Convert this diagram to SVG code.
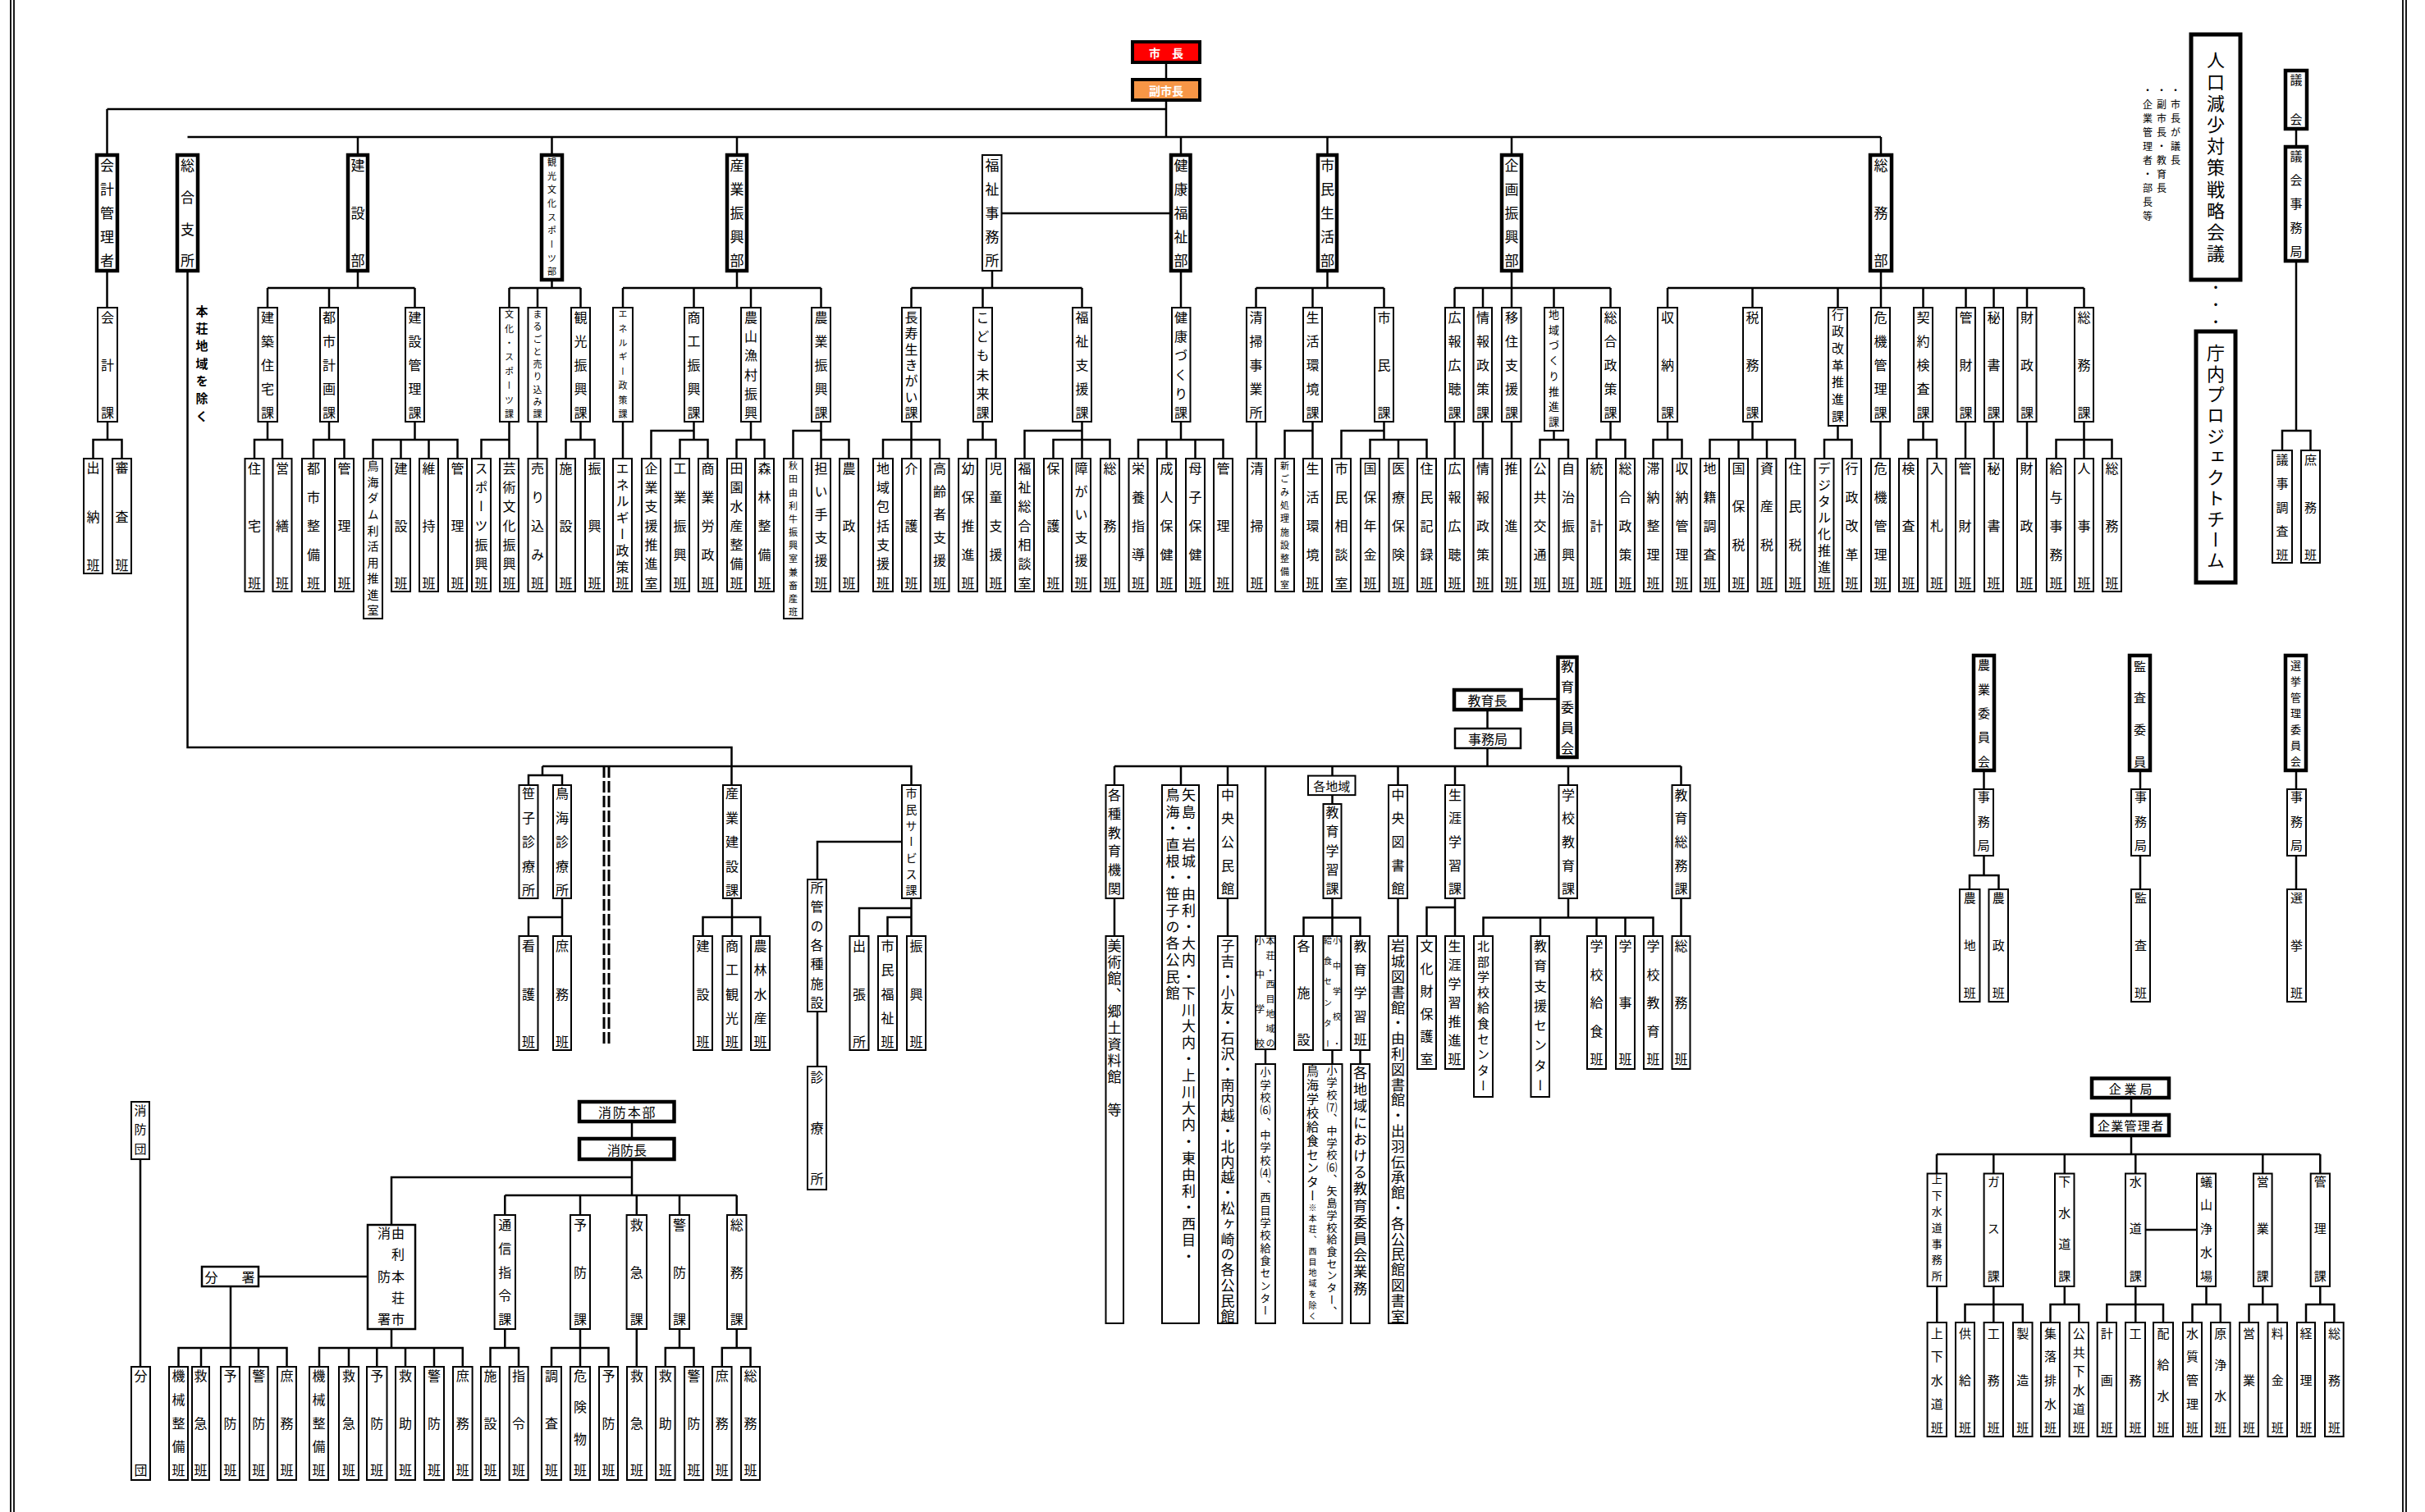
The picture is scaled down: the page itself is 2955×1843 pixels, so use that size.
<svg xmlns="http://www.w3.org/2000/svg" width="2955" height="1843" viewBox="0 0 2955 1843">
<style>
.b{fill:#fff;stroke:#000;stroke-width:2}
.k{fill:#fff;stroke:#000;stroke-width:4.5}
.c path{fill:none;stroke:#000;stroke-width:2.5}
text{font-family:"Noto Sans CJK JP","Noto Sans CJK SC",sans-serif;fill:#000}
.v{writing-mode:vertical-rl;text-anchor:middle;font-size:16px}
.l{writing-mode:vertical-rl;text-anchor:start;font-size:17px}
.h{text-anchor:middle;dominant-baseline:central;font-size:16px}
.f17{font-size:17px}.f15{font-size:15px}.f14{font-size:14px}.f13{font-size:13px}.f11{font-size:11px}.f10{font-size:10px}
.w{fill:#fff;font-weight:bold;font-size:14px}
</style>
<rect width="2955" height="1843" fill="#fff"/>
<g id="frame" fill="none" stroke="#000" stroke-width="1.8"><path d="M13 0V1843M17 0V1843M2928 0V1843M2932 0V1843"/></g>
<g id="connectors" class="c">
<path d="M1421 76V97M1421 122V167M130.5 133H1421M130.5 133V189M228.5 167H2292M436 167V189M672.5 167V189M898 167V189M1439 167V189M1617.5 167V189M1842 167V189M2292 167V189M1220.5 260H1427"/>
<path d="M130.5 330V375M436 330V351M326 351H505.5M326 351V375M401 351V375M505.5 351V375M672.5 341V351M620.5 351H707.5M620.5 351V375M655 351V375M707.5 351V375M898 330V351M759 351H1000.5M759 351V375M845.5 351V375M915 351V375M1000.5 351V375M1209 330V351M1110.5 351H1318.5M1110.5 351V375M1197.5 351V375M1318.5 351V375M1439 330V375M1617.5 330V351M1530.5 351H1686.5M1530.5 351V375M1599.5 351V375M1686.5 351V375M1842 330V375M1772.5 351H1962.5M1772.5 351V375M1807 351V375M1893.5 351V375M1962.5 351V375M2292 330V375M2032 351H2539.5M2032 351V375M2135.5 351V375M2239.5 351V375M2343.5 351V375M2395.5 351V375M2429.5 351V375M2470 351V375M2539.5 351V375"/>
<path d="M131 514V536M113.5 559V536H148.5V559M326 514V536M310 559V536H344V559M401 514V536M382 559V536H419.5V559M505.5 514V536M454.5 559V536H557.5V559M488.5 536V559M522.5 536V559M620.5 514V559M586.5 559V536H620.5M655 514V559M707.5 514V536M689.5 559V536H724.5V559M759 514V559M845.5 514V536M793.5 559V525H845.5M828.5 559V536H862.5V559M915 514V536M897.5 559V536H931.5V559M1000.5 514V559M966.5 559V525H1000.5M1000.5 536H1034.5V559M1110.5 514V559M1076 559V536H1145V559M1197.5 514V536M1179.5 559V536H1213.5V559M1318.5 514V559M1248.5 559V525H1318.5M1283.5 559V536H1352.5V559M1439 514V536M1387 559V536H1490.5V559M1421.5 536V559M1456.5 536V559M1531 514V559M1599.5 514V559M1565.5 559V525H1599.5M1686.5 514V536M1634.5 559V525H1686.5M1669.5 559V536H1738.5V559M1704 536V559M1772.5 514V559M1807 514V559M1842 514V559M1893.5 525V536M1876.5 559V536H1911V559M1962.5 514V536M1945.5 559V536H1980.5V559M2032 514V536M2014.5 559V536H2049.5V559M2135.5 514V536M2083.5 559V536H2187.5V559M2118.5 536V559M2153 536V559M2239.5 519V536M2223 559V536H2256.5V559M2291.5 514V559M2343.5 514V536M2325.5 559V536H2360V559M2395 514V559M2429.5 514V559M2470 514V559M2539.5 514V559M2505.5 559V536H2573.5V559"/>
<path d="M228.5 330V911H891.5V957M661 934H1110.5V957M661 934V945M644 957V945H685V957M685 1095V1141M644 1141V1118H685M892 1095V1141M856.5 1141V1118H926.5V1141M1099 1026H996V1072M996 1233V1300M1110.5 1095V1141M1047 1141V1107H1110.5M1081.5 1141V1118H1110.5"/>
<path d="M736 934V1275M742 934V1275" style="stroke-width:3;stroke-dasharray:14 4"/>
<path d="M1853.5 852H1898.5M1812.5 865V888M1812.5 912V934M1358 934H2048.5M1358 934V957M1439 934V957M1496 934V957M1542 934V1141M1623.5 934V945.6M1623.5 969V980M1703.5 934V957M1773 934V957M1911 934V957M2048.5 934V957M1358 1095V1141M1496 1095V1141M1542 1279V1297M1623.5 1095V1141M1588.5 1141V1118.5H1657.5V1141M1623.5 1280V1297M1657.5 1280V1297M1703.5 1095V1141M1773 1095V1141M1738.5 1141V1106H1773M1911 1095V1118.5M1807.5 1141V1118.5H2014.5V1141M1877 1118.5V1141M1945.5 1118.5V1141M1980.5 1118.5V1141M2048.5 1095V1141"/>
<path d="M2417.5 939V962M2417.5 1043V1067M2400 1084V1067H2435.5V1084M2608 939V962M2608 1043V1084M2798 939V962M2798 1043V1084M2798 157V179M2798 318V525M2781 549V525H2815.5V549"/>
<path d="M2597 1338V1359M2597 1384V1407M2360 1407H2827.3M2360 1407V1430.5M2429.3 1407V1430.5M2515.8 1407V1430.5M2602.3 1407V1430.5M2757.3 1407V1430.5M2827.3 1407V1430.5M2614.5 1499H2677M2360.3 1568V1612M2429.3 1568V1612M2394.5 1612V1590H2464.8V1612M2515.8 1568V1590M2498.5 1612V1590H2533.3V1612M2602.3 1568V1612M2567.3 1612V1590H2636V1612M2688.5 1568V1590M2671.5 1612V1590H2705.8V1612M2757.3 1568V1590M2740.5 1612V1590H2775.2V1612M2827.3 1568V1590M2810 1612V1590H2844.4V1612"/>
<path d="M171 1413V1666M770 1367V1388M770 1413V1457M770 1435H477V1493M315 1556H448M281 1568V1666M217.5 1666V1643H349.5V1666M245 1643V1666M315 1643V1666M477 1620V1643M389 1666V1643H563.8V1666M425 1643V1666M459.3 1643V1666M494 1643V1666M529 1643V1666M615.3 1457H897.7M615.3 1457V1481M707 1457V1481M775.8 1457V1481M828 1457V1481M897.7 1457V1481M615.3 1620V1643M597.5 1666V1643H632V1666M707 1620V1666M672 1666V1643H741.5V1666M775.8 1620V1666M828 1620V1643M810.8 1666V1643H845.5V1666M897.7 1620V1643M879.8 1666V1643H914.5V1666"/>
</g>
<g id="mayor"><rect x="1380" y="51" width="82" height="25" fill="#ff0000" stroke="#000" stroke-width="4"/><text class="h w" x="1421" y="64">市　長</text></g>
<g id="vice-mayor"><rect x="1380" y="97" width="82" height="25" fill="#f79646" stroke="#000" stroke-width="4"/><text class="h w" x="1421" y="110">副市長</text></g>
<g id="d01"><rect class="k" x="118" y="189" width="25" height="141"/><text class="v f17" x="130.5" y="201.5 230.6 259.8 288.9 318">会計管理者</text></g>
<g id="d02"><rect class="k" x="216" y="189" width="25" height="141"/><text class="v f17" x="228.5" y="201.5 240.3 279.2 318">総合支所</text></g>
<g id="d03"><rect class="k" x="424" y="189" width="24" height="141"/><text class="v f17" x="436" y="201.5 259.8 318">建設部</text></g>
<g id="d04"><rect class="k" x="660" y="189" width="25" height="152"/><text class="v f11" x="672.5" y="198 214.6 231.3 247.9 264.5 281.1 297.8 314.4 331">観光文化スポーツ部</text></g>
<g id="d05"><rect class="k" x="886" y="189" width="24" height="141"/><text class="v f17" x="898" y="201.5 230.6 259.8 288.9 318">産業振興部</text></g>
<g id="d06"><rect class="b" x="1197" y="189" width="23.5" height="141"/><text class="v f17" x="1209" y="201.5 230.6 259.8 288.9 318">福祉事務所</text></g>
<g id="d07"><rect class="k" x="1427" y="189" width="23.5" height="141"/><text class="v f17" x="1439" y="201.5 230.6 259.8 288.9 318">健康福祉部</text></g>
<g id="d08"><rect class="k" x="1606" y="189" width="23" height="141"/><text class="v f17" x="1617.5" y="201.5 230.6 259.8 288.9 318">市民生活部</text></g>
<g id="d09"><rect class="k" x="1830" y="189" width="24" height="141"/><text class="v f17" x="1842" y="201.5 230.6 259.8 288.9 318">企画振興部</text></g>
<g id="d10"><rect class="k" x="2279" y="189" width="26" height="141"/><text class="v f17" x="2292" y="201.5 259.8 318">総務部</text></g>
<g id="note-honjo"><text class="v f15" style="font-weight:bold" x="246" y="379 400.3 421.7 443 464.3 485.7 507">本荘地域を除く</text></g>
<g id="k01"><rect class="b" x="119" y="375" width="24" height="139"/><text class="v" x="131" y="387 445 503">会計課</text></g>
<g id="k02"><rect class="b" x="314.5" y="375" width="23.5" height="139"/><text class="v" x="326" y="387 416 445 474 503">建築住宅課</text></g>
<g id="k03"><rect class="b" x="390" y="375" width="22" height="139"/><text class="v" x="401" y="387 416 445 474 503">都市計画課</text></g>
<g id="k04"><rect class="b" x="494" y="375" width="23" height="139"/><text class="v" x="505.5" y="387 416 445 474 503">建設管理課</text></g>
<g id="k05"><rect class="b" x="609" y="375" width="23" height="139"/><text class="v f11" x="620.5" y="383 400.4 417.9 435.3 452.7 470.1 487.6 505">文化・スポーツ課</text></g>
<g id="k06"><rect class="b" x="643.5" y="375" width="22.5" height="139"/><text class="v f11" x="655" y="383 398.3 413.5 428.8 444 459.3 474.5 489.8 505">まるごと売り込み課</text></g>
<g id="k07"><rect class="b" x="696" y="375" width="23" height="139"/><text class="v" x="707.5" y="387 416 445 474 503">観光振興課</text></g>
<g id="k08"><rect class="b" x="747" y="375" width="24" height="139"/><text class="v f11" x="759" y="383 400.4 417.9 435.3 452.7 470.1 487.6 505">エネルギー政策課</text></g>
<g id="k09"><rect class="b" x="834" y="375" width="23" height="139"/><text class="v" x="845.5" y="387 416 445 474 503">商工振興課</text></g>
<g id="k10"><rect class="b" x="903" y="375" width="24" height="139"/><text class="v" x="915" y="387 410.2 433.4 456.6 479.8 503">農山漁村振興</text></g>
<g id="k11"><rect class="b" x="989" y="375" width="23" height="139"/><text class="v" x="1000.5" y="387 416 445 474 503">農業振興課</text></g>
<g id="k12"><rect class="b" x="1099" y="375" width="23" height="139"/><text class="v" x="1110.5" y="387 406.3 425.7 445 464.3 483.7 503">長寿生きがい課</text></g>
<g id="k13"><rect class="b" x="1186" y="375" width="23" height="139"/><text class="v" x="1197.5" y="387 410.2 433.4 456.6 479.8 503">こども未来課</text></g>
<g id="k14"><rect class="b" x="1307" y="375" width="23" height="139"/><text class="v" x="1318.5" y="387 416 445 474 503">福祉支援課</text></g>
<g id="k15"><rect class="b" x="1428" y="375" width="22.5" height="139"/><text class="v" x="1439" y="387 410.2 433.4 456.6 479.8 503">健康づくり課</text></g>
<g id="k16"><rect class="b" x="1519" y="375" width="23" height="139"/><text class="v" x="1530.5" y="387 416 445 474 503">清掃事業所</text></g>
<g id="k17"><rect class="b" x="1588" y="375" width="23" height="139"/><text class="v" x="1599.5" y="387 416 445 474 503">生活環境課</text></g>
<g id="k18"><rect class="b" x="1675" y="375" width="23" height="139"/><text class="v" x="1686.5" y="387 445 503">市民課</text></g>
<g id="k19"><rect class="b" x="1761" y="375" width="23" height="139"/><text class="v" x="1772.5" y="387 416 445 474 503">広報広聴課</text></g>
<g id="k20"><rect class="b" x="1795.5" y="375" width="22.5" height="139"/><text class="v" x="1807" y="387 416 445 474 503">情報政策課</text></g>
<g id="k21"><rect class="b" x="1830" y="375" width="23.5" height="139"/><text class="v" x="1842" y="387 416 445 474 503">移住支援課</text></g>
<g id="k22"><rect class="b" x="1882" y="375" width="23" height="150"/><text class="v f13" x="1893.5" y="383 401.7 420.4 439.1 457.9 476.6 495.3 514">地域づくり推進課</text></g>
<g id="k23"><rect class="b" x="1951" y="375" width="23" height="139"/><text class="v" x="1962.5" y="387 416 445 474 503">総合政策課</text></g>
<g id="k24"><rect class="b" x="2020" y="375" width="24" height="139"/><text class="v" x="2032" y="387 445 503">収納課</text></g>
<g id="k25"><rect class="b" x="2124" y="375" width="23" height="139"/><text class="v" x="2135.5" y="387 445 503">税務課</text></g>
<g id="k26"><rect class="b" x="2228" y="375" width="23" height="144"/><text class="v f15" x="2239.5" y="383 403.7 424.3 445 465.7 486.3 507">行政改革推進課</text></g>
<g id="k27"><rect class="b" x="2280" y="375" width="23" height="139"/><text class="v" x="2291.5" y="387 416 445 474 503">危機管理課</text></g>
<g id="k28"><rect class="b" x="2332" y="375" width="23" height="139"/><text class="v" x="2343.5" y="387 416 445 474 503">契約検査課</text></g>
<g id="k29"><rect class="b" x="2384" y="375" width="23" height="139"/><text class="v" x="2395.5" y="387 445 503">管財課</text></g>
<g id="k30"><rect class="b" x="2418" y="375" width="23" height="139"/><text class="v" x="2429.5" y="387 445 503">秘書課</text></g>
<g id="k31"><rect class="b" x="2458.5" y="375" width="23" height="139"/><text class="v" x="2470" y="387 445 503">財政課</text></g>
<g id="k32"><rect class="b" x="2528" y="375" width="23" height="139"/><text class="v" x="2539.5" y="387 445 503">総務課</text></g>
<g id="h01"><rect class="b" x="102" y="559" width="23" height="140"/><text class="v" x="113.5" y="570 629.5 689">出納班</text></g>
<g id="h02"><rect class="b" x="137" y="559" width="23" height="140"/><text class="v" x="148.5" y="570 629.5 689">審査班</text></g>
<g id="h03"><rect class="b" x="298.5" y="559" width="23" height="162"/><text class="v" x="310" y="570.5 640.5 710.5">住宅班</text></g>
<g id="h04"><rect class="b" x="332.5" y="559" width="23" height="162"/><text class="v" x="344" y="570.5 640.5 710.5">営繕班</text></g>
<g id="h05"><rect class="b" x="368" y="559" width="28" height="162"/><text class="v" x="382" y="570.5 605.5 640.5 675.5 710.5">都市整備班</text></g>
<g id="h06"><rect class="b" x="408" y="559" width="23" height="162"/><text class="v" x="419.5" y="570.5 640.5 710.5">管理班</text></g>
<g id="h07"><rect class="b" x="443" y="559" width="23" height="195"/><text class="v f14" x="454.5" y="568 587.6 607.1 626.7 646.2 665.8 685.4 704.9 724.5 744">鳥海ダム利活用推進室</text></g>
<g id="h08"><rect class="b" x="477" y="559" width="23" height="162"/><text class="v" x="488.5" y="570.5 640.5 710.5">建設班</text></g>
<g id="h09"><rect class="b" x="511" y="559" width="23" height="162"/><text class="v" x="522.5" y="570.5 640.5 710.5">維持班</text></g>
<g id="h10"><rect class="b" x="546" y="559" width="23" height="162"/><text class="v" x="557.5" y="570.5 640.5 710.5">管理班</text></g>
<g id="h11"><rect class="b" x="575" y="559" width="23" height="162"/><text class="v" x="586.5" y="570.5 593.8 617.2 640.5 663.8 687.2 710.5">スポーツ振興班</text></g>
<g id="h12"><rect class="b" x="609" y="559" width="23" height="162"/><text class="v" x="620.5" y="570.5 593.8 617.2 640.5 663.8 687.2 710.5">芸術文化振興班</text></g>
<g id="h13"><rect class="b" x="643.5" y="559" width="23" height="162"/><text class="v" x="655" y="570.5 605.5 640.5 675.5 710.5">売り込み班</text></g>
<g id="h14"><rect class="b" x="678" y="559" width="23" height="162"/><text class="v" x="689.5" y="570.5 640.5 710.5">施設班</text></g>
<g id="h15"><rect class="b" x="713" y="559" width="23" height="162"/><text class="v" x="724.5" y="570.5 640.5 710.5">振興班</text></g>
<g id="h16"><rect class="b" x="747" y="559" width="23" height="162"/><text class="v" x="758.5" y="570.5 590.5 610.5 630.5 650.5 670.5 690.5 710.5">エネルギー政策班</text></g>
<g id="h17"><rect class="b" x="782" y="559" width="23" height="162"/><text class="v" x="793.5" y="570.5 593.8 617.2 640.5 663.8 687.2 710.5">企業支援推進室</text></g>
<g id="h18"><rect class="b" x="817" y="559" width="23" height="162"/><text class="v" x="828.5" y="570.5 605.5 640.5 675.5 710.5">工業振興班</text></g>
<g id="h19"><rect class="b" x="851" y="559" width="23" height="162"/><text class="v" x="862.5" y="570.5 605.5 640.5 675.5 710.5">商業労政班</text></g>
<g id="h20"><rect class="b" x="886" y="559" width="23" height="162"/><text class="v" x="897.5" y="570.5 593.8 617.2 640.5 663.8 687.2 710.5">田園水産整備班</text></g>
<g id="h21"><rect class="b" x="920" y="559" width="23" height="162"/><text class="v" x="931.5" y="570.5 605.5 640.5 675.5 710.5">森林整備班</text></g>
<g id="h22"><rect class="b" x="955" y="559" width="23" height="195"/><text class="v f11" x="966.5" y="568 584.2 600.4 616.5 632.7 648.9 665.1 681.3 697.5 713.6 729.8 746">秋田由利牛振興室兼畜産班</text></g>
<g id="h23"><rect class="b" x="989" y="559" width="23" height="162"/><text class="v" x="1000.5" y="570.5 598.5 626.5 654.5 682.5 710.5">担い手支援班</text></g>
<g id="h24"><rect class="b" x="1023" y="559" width="23" height="162"/><text class="v" x="1034.5" y="570.5 640.5 710.5">農政班</text></g>
<g id="h25"><rect class="b" x="1064" y="559" width="24" height="162"/><text class="v" x="1076" y="570.5 593.8 617.2 640.5 663.8 687.2 710.5">地域包括支援班</text></g>
<g id="h26"><rect class="b" x="1099" y="559" width="23" height="162"/><text class="v" x="1110.5" y="570.5 640.5 710.5">介護班</text></g>
<g id="h27"><rect class="b" x="1133.5" y="559" width="23" height="162"/><text class="v" x="1145" y="570.5 598.5 626.5 654.5 682.5 710.5">高齢者支援班</text></g>
<g id="h28"><rect class="b" x="1168" y="559" width="23" height="162"/><text class="v" x="1179.5" y="570.5 605.5 640.5 675.5 710.5">幼保推進班</text></g>
<g id="h29"><rect class="b" x="1202" y="559" width="23" height="162"/><text class="v" x="1213.5" y="570.5 605.5 640.5 675.5 710.5">児童支援班</text></g>
<g id="h30"><rect class="b" x="1237" y="559" width="23" height="162"/><text class="v" x="1248.5" y="570.5 593.8 617.2 640.5 663.8 687.2 710.5">福祉総合相談室</text></g>
<g id="h31"><rect class="b" x="1272" y="559" width="23" height="162"/><text class="v" x="1283.5" y="570.5 640.5 710.5">保護班</text></g>
<g id="h32"><rect class="b" x="1306" y="559" width="23" height="162"/><text class="v" x="1317.5" y="570.5 598.5 626.5 654.5 682.5 710.5">障がい支援班</text></g>
<g id="h33"><rect class="b" x="1341" y="559" width="23" height="162"/><text class="v" x="1352.5" y="570.5 640.5 710.5">総務班</text></g>
<g id="h34"><rect class="b" x="1375.5" y="559" width="23" height="162"/><text class="v" x="1387" y="570.5 605.5 640.5 675.5 710.5">栄養指導班</text></g>
<g id="h35"><rect class="b" x="1410" y="559" width="23" height="162"/><text class="v" x="1421.5" y="570.5 605.5 640.5 675.5 710.5">成人保健班</text></g>
<g id="h36"><rect class="b" x="1445" y="559" width="23" height="162"/><text class="v" x="1456.5" y="570.5 605.5 640.5 675.5 710.5">母子保健班</text></g>
<g id="h37"><rect class="b" x="1479" y="559" width="23" height="162"/><text class="v" x="1490.5" y="570.5 640.5 710.5">管理班</text></g>
<g id="h38"><rect class="b" x="1520" y="559" width="23" height="162"/><text class="v" x="1531.5" y="570.5 640.5 710.5">清掃班</text></g>
<g id="h39"><rect class="b" x="1554" y="559" width="23" height="162"/><text class="v f11" x="1565.5" y="568 584.1 600.1 616.2 632.3 648.4 664.4 680.5 696.6 712.6">新ごみ処理施設整備室</text></g>
<g id="h40"><rect class="b" x="1588" y="559" width="23" height="162"/><text class="v" x="1599.5" y="570.5 605.5 640.5 675.5 710.5">生活環境班</text></g>
<g id="h41"><rect class="b" x="1623" y="559" width="23" height="162"/><text class="v" x="1634.5" y="570.5 605.5 640.5 675.5 710.5">市民相談室</text></g>
<g id="h42"><rect class="b" x="1658" y="559" width="23" height="162"/><text class="v" x="1669.5" y="570.5 605.5 640.5 675.5 710.5">国保年金班</text></g>
<g id="h43"><rect class="b" x="1692.5" y="559" width="23" height="162"/><text class="v" x="1704" y="570.5 605.5 640.5 675.5 710.5">医療保険班</text></g>
<g id="h44"><rect class="b" x="1727" y="559" width="23" height="162"/><text class="v" x="1738.5" y="570.5 605.5 640.5 675.5 710.5">住民記録班</text></g>
<g id="h45"><rect class="b" x="1761" y="559" width="23" height="162"/><text class="v" x="1772.5" y="570.5 605.5 640.5 675.5 710.5">広報広聴班</text></g>
<g id="h46"><rect class="b" x="1795.5" y="559" width="23" height="162"/><text class="v" x="1807" y="570.5 605.5 640.5 675.5 710.5">情報政策班</text></g>
<g id="h47"><rect class="b" x="1830" y="559" width="23" height="162"/><text class="v" x="1841.5" y="570.5 640.5 710.5">推進班</text></g>
<g id="h48"><rect class="b" x="1865" y="559" width="23" height="162"/><text class="v" x="1876.5" y="570.5 605.5 640.5 675.5 710.5">公共交通班</text></g>
<g id="h49"><rect class="b" x="1899.5" y="559" width="23" height="162"/><text class="v" x="1911" y="570.5 605.5 640.5 675.5 710.5">自治振興班</text></g>
<g id="h50"><rect class="b" x="1934" y="559" width="23" height="162"/><text class="v" x="1945.5" y="570.5 640.5 710.5">統計班</text></g>
<g id="h51"><rect class="b" x="1969" y="559" width="23" height="162"/><text class="v" x="1980.5" y="570.5 605.5 640.5 675.5 710.5">総合政策班</text></g>
<g id="h52"><rect class="b" x="2003" y="559" width="23" height="162"/><text class="v" x="2014.5" y="570.5 605.5 640.5 675.5 710.5">滞納整理班</text></g>
<g id="h53"><rect class="b" x="2038" y="559" width="23" height="162"/><text class="v" x="2049.5" y="570.5 605.5 640.5 675.5 710.5">収納管理班</text></g>
<g id="h54"><rect class="b" x="2072" y="559" width="23" height="162"/><text class="v" x="2083.5" y="570.5 605.5 640.5 675.5 710.5">地籍調査班</text></g>
<g id="h55"><rect class="b" x="2107" y="559" width="23" height="162"/><text class="v" x="2118.5" y="570.5 617.2 663.8 710.5">国保税班</text></g>
<g id="h56"><rect class="b" x="2141.5" y="559" width="23" height="162"/><text class="v" x="2153" y="570.5 617.2 663.8 710.5">資産税班</text></g>
<g id="h57"><rect class="b" x="2176" y="559" width="23" height="162"/><text class="v" x="2187.5" y="570.5 617.2 663.8 710.5">住民税班</text></g>
<g id="h58"><rect class="b" x="2211.5" y="559" width="23" height="162"/><text class="v" x="2223" y="570.5 590.5 610.5 630.5 650.5 670.5 690.5 710.5">デジタル化推進班</text></g>
<g id="h59"><rect class="b" x="2245" y="559" width="23" height="162"/><text class="v" x="2256.5" y="570.5 605.5 640.5 675.5 710.5">行政改革班</text></g>
<g id="h60"><rect class="b" x="2280" y="559" width="23" height="162"/><text class="v" x="2291.5" y="570.5 605.5 640.5 675.5 710.5">危機管理班</text></g>
<g id="h61"><rect class="b" x="2314" y="559" width="23" height="162"/><text class="v" x="2325.5" y="570.5 640.5 710.5">検査班</text></g>
<g id="h62"><rect class="b" x="2348.5" y="559" width="23" height="162"/><text class="v" x="2360" y="570.5 640.5 710.5">入札班</text></g>
<g id="h63"><rect class="b" x="2383" y="559" width="23" height="162"/><text class="v" x="2394.5" y="570.5 640.5 710.5">管財班</text></g>
<g id="h64"><rect class="b" x="2418" y="559" width="23" height="162"/><text class="v" x="2429.5" y="570.5 640.5 710.5">秘書班</text></g>
<g id="h65"><rect class="b" x="2458" y="559" width="23" height="162"/><text class="v" x="2469.5" y="570.5 640.5 710.5">財政班</text></g>
<g id="h66"><rect class="b" x="2494" y="559" width="23" height="162"/><text class="v" x="2505.5" y="570.5 605.5 640.5 675.5 710.5">給与事務班</text></g>
<g id="h67"><rect class="b" x="2528" y="559" width="23" height="162"/><text class="v" x="2539.5" y="570.5 640.5 710.5">人事班</text></g>
<g id="h68"><rect class="b" x="2562" y="559" width="23" height="162"/><text class="v" x="2573.5" y="570.5 640.5 710.5">総務班</text></g>
<g id="s01"><rect class="b" x="632.5" y="957" width="23" height="138"/><text class="v" x="644" y="967 996.5 1026 1055.5 1085">笹子診療所</text></g>
<g id="s02"><rect class="b" x="674" y="957" width="22" height="138"/><text class="v" x="685" y="967 996.5 1026 1055.5 1085">鳥海診療所</text></g>
<g id="s03"><rect class="b" x="632.5" y="1141" width="23" height="139"/><text class="v" x="644" y="1153 1211.5 1270">看護班</text></g>
<g id="s04"><rect class="b" x="674" y="1141" width="22" height="139"/><text class="v" x="685" y="1153 1211.5 1270">庶務班</text></g>
<g id="s05"><rect class="b" x="881" y="957" width="22" height="138"/><text class="v" x="892" y="967 996.5 1026 1055.5 1085">産業建設課</text></g>
<g id="s06"><rect class="b" x="845" y="1141" width="23" height="139"/><text class="v" x="856.5" y="1153 1211.5 1270">建設班</text></g>
<g id="s07"><rect class="b" x="880.5" y="1141" width="23" height="139"/><text class="v" x="892" y="1153 1182.3 1211.5 1240.8 1270">商工観光班</text></g>
<g id="s08"><rect class="b" x="915" y="1141" width="23" height="139"/><text class="v" x="926.5" y="1153 1182.3 1211.5 1240.8 1270">農林水産班</text></g>
<g id="s09"><rect class="b" x="1099" y="957" width="23" height="138"/><text class="v f14" x="1110.5" y="967 986.7 1006.3 1026 1045.7 1065.3 1085">市民サービス課</text></g>
<g id="s10"><rect class="b" x="984" y="1072" width="23" height="161"/><text class="v" x="995.5" y="1082 1105.3 1128.7 1152 1175.3 1198.7 1222">所管の各種施設</text></g>
<g id="s11"><rect class="b" x="984" y="1300" width="23" height="150"/><text class="v" x="995.5" y="1313 1375 1437">診療所</text></g>
<g id="s12"><rect class="b" x="1035.5" y="1141" width="23" height="139"/><text class="v" x="1047" y="1153 1211.5 1270">出張所</text></g>
<g id="s13"><rect class="b" x="1070" y="1141" width="23" height="139"/><text class="v" x="1081.5" y="1153 1182.3 1211.5 1240.8 1270">市民福祉班</text></g>
<g id="s14"><rect class="b" x="1105" y="1141" width="23" height="139"/><text class="v" x="1116.5" y="1153 1211.5 1270">振興班</text></g>
<g id="e01"><rect class="k" x="1898.5" y="801" width="23" height="122"/><text class="v" x="1910" y="812 836.9 861.8 886.7 911.6">教育委員会</text></g>
<g id="e02"><rect class="k" x="1772" y="841" width="81.5" height="24"/><text class="h" x="1812.5" y="853">教育長</text></g>
<g id="e03"><rect class="b" x="1773" y="888" width="80" height="24" style="stroke-width:2.5"/><text class="h" x="1813" y="900">事務局</text></g>
<g id="e04"><rect class="b" x="1347.5" y="957" width="21.5" height="138"/><text class="v" x="1358" y="968.7 991.6 1014.5 1037.4 1060.3 1083">各種教育機関</text></g>
<g id="e05"><rect class="b" x="1347.5" y="1141" width="21.5" height="472"/><text class="l" x="1358" y="1144.5" style="letter-spacing:3px">美術館、郷土資料館　等</text></g>
<g id="e06"><rect class="b" x="1416" y="957" width="45" height="656"/><text class="l" x="1448.5" y="960.5" style="letter-spacing:3.1px">矢島・岩城・由利・大内・下川大内・上川大内・東由利・西目・</text><text class="l" x="1429" y="960.5" style="letter-spacing:3.1px">鳥海・直根・笹子の各公民館</text></g>
<g id="e07"><rect class="b" x="1484" y="957" width="24" height="138"/><text class="v" x="1496" y="968.7 997.3 1025.9 1054.5 1083">中央公民館</text></g>
<g id="e08"><rect class="b" x="1484" y="1141" width="24" height="472"/><text class="l" x="1496" y="1144.5" style="letter-spacing:1.8px">子吉・小友・石沢・南内越・北内越・松ヶ崎の各公民館</text></g>
<g id="e09"><rect class="b" x="1530" y="1141" width="24" height="138"/><text class="v f11" x="1548" y="1146.5 1164.4 1182.4 1200.3 1218.2 1236.1 1254.1 1272">本荘・西目地域の</text><text class="v f11" x="1535.5" y="1146.5 1188.3 1230.2 1272">小中学校</text></g>
<g id="e10"><rect class="b" x="1530" y="1297" width="24" height="316"/><text class="l f13" x="1542" y="1300" style="letter-spacing:2.3px">小学校⑹、中学校⑷、西目学校給食センター</text></g>
<g id="e11"><rect class="b" x="1594" y="945.6" width="57.5" height="23.5"/><text class="h f15" x="1622.8" y="957.5">各地域</text></g>
<g id="e12"><rect class="b" x="1612.5" y="980" width="22" height="115"/><text class="v" x="1623.5" y="990 1013.3 1036.5 1059.8 1083">教育学習課</text></g>
<g id="e13"><rect class="b" x="1577" y="1141" width="23" height="139"/><text class="v" x="1588.5" y="1153 1210 1267">各施設</text></g>
<g id="e14"><rect class="b" x="1612.5" y="1141" width="22" height="139"/><text class="v f10" x="1629" y="1146.5 1177 1208 1239.5 1272">小中学校・</text><text class="v f10" x="1618" y="1146.5 1171.6 1196.7 1221.8 1246.9 1272">給食センター</text></g>
<g id="e15"><rect class="b" x="1588" y="1297" width="47.5" height="316"/><text class="l f13" x="1623" y="1298" style="letter-spacing:1.7px">小学校⑺、中学校⑹、矢島学校給食センター、</text><text class="l f15" x="1599.5" y="1298" style="letter-spacing:1.9px">鳥海学校給食センター<tspan class="f10" style="letter-spacing:3.2px">※本荘、西目地域を除く</tspan></text></g>
<g id="e16"><rect class="b" x="1646" y="1141" width="23" height="139"/><text class="v" x="1657.5" y="1153 1181.5 1210 1238.5 1267">教育学習班</text></g>
<g id="e17"><rect class="b" x="1646" y="1297" width="23" height="316"/><text class="l" x="1657.5" y="1299" style="letter-spacing:3.2px">各地域における教育委員会業務</text></g>
<g id="e18"><rect class="b" x="1692" y="957" width="23" height="138"/><text class="v" x="1703.5" y="968.7 997.3 1025.9 1054.5 1083">中央図書館</text></g>
<g id="e19"><rect class="b" x="1692" y="1141" width="23" height="472"/><text class="l" x="1703.5" y="1144.5" style="letter-spacing:1.8px">岩城図書館・由利図書館・出羽伝承館・各公民館図書室</text></g>
<g id="e20"><rect class="b" x="1761" y="957" width="23.5" height="138"/><text class="v" x="1773" y="968.7 997.3 1025.9 1054.5 1083">生涯学習課</text></g>
<g id="e21"><rect class="b" x="1727" y="1141" width="23" height="162"/><text class="v" x="1738.5" y="1153 1180.6 1208.2 1235.8 1263.4 1291">文化財保護室</text></g>
<g id="e22"><rect class="b" x="1761" y="1141" width="23" height="162"/><text class="v" x="1772.5" y="1153 1176 1199 1222 1245 1268 1291">生涯学習推進班</text></g>
<g id="e23"><rect class="b" x="1899.5" y="957" width="22.5" height="138"/><text class="v" x="1911" y="968.7 997.3 1025.9 1054.5 1083">学校教育課</text></g>
<g id="e24"><rect class="b" x="1796" y="1141" width="23" height="196"/><text class="v f15" x="1807.5" y="1153 1171.9 1190.8 1209.7 1228.6 1247.5 1266.4 1285.3 1304.2 1323">北部学校給食センター</text></g>
<g id="e25"><rect class="b" x="1865.5" y="1141" width="22.5" height="196"/><text class="v" x="1877" y="1153 1177.3 1201.6 1225.9 1250.1 1274.4 1298.7 1323">教育支援センター</text></g>
<g id="e26"><rect class="b" x="1934" y="1141" width="23" height="162"/><text class="v" x="1945.5" y="1153 1187.5 1222 1256.5 1291">学校給食班</text></g>
<g id="e27"><rect class="b" x="1969" y="1141" width="23" height="162"/><text class="v" x="1980.5" y="1153 1222 1291">学事班</text></g>
<g id="e28"><rect class="b" x="2003" y="1141" width="23" height="162"/><text class="v" x="2014.5" y="1153 1187.5 1222 1256.5 1291">学校教育班</text></g>
<g id="e29"><rect class="b" x="2037.5" y="957" width="22" height="138"/><text class="v" x="2048.5" y="968.7 997.3 1025.9 1054.5 1083">教育総務課</text></g>
<g id="e30"><rect class="b" x="2037.5" y="1141" width="22" height="162"/><text class="v" x="2048.5" y="1153 1222 1291">総務班</text></g>
<g id="c01"><rect class="k" x="2405" y="799" width="25" height="140"/><text class="v f15" x="2417.5" y="810.6 839.9 869.3 898.6 928">農業委員会</text></g>
<g id="c02"><rect class="b" x="2405.5" y="962" width="23.5" height="81"/><text class="v f15" x="2417.3" y="971 1001 1030.6">事務局</text></g>
<g id="c03"><rect class="b" x="2388" y="1084" width="24.5" height="137"/><text class="v f15" x="2400.2" y="1094 1152 1210.5">農地班</text></g>
<g id="c04"><rect class="b" x="2423.5" y="1084" width="23.5" height="137"/><text class="v f15" x="2435.3" y="1094 1152 1210.5">農政班</text></g>
<g id="c05"><rect class="k" x="2595" y="799" width="25" height="140"/><text class="v f15" x="2607.5" y="812 850.7 889.3 928">監査委員</text></g>
<g id="c06"><rect class="b" x="2597" y="962" width="23" height="81"/><text class="v f15" x="2608.5" y="971 1001 1030.6">事務局</text></g>
<g id="c07"><rect class="b" x="2597" y="1084" width="23" height="137"/><text class="v f15" x="2608.5" y="1094 1152 1210.5">監査班</text></g>
<g id="c08"><rect class="k" x="2785" y="799" width="25" height="140"/><text class="v f13" x="2797.5" y="810.6 830.2 849.8 869.3 888.9 908.5 928">選挙管理委員会</text></g>
<g id="c09"><rect class="b" x="2787" y="962" width="23" height="81"/><text class="v f15" x="2798.5" y="971 1001 1030.6">事務局</text></g>
<g id="c10"><rect class="b" x="2787" y="1084" width="23" height="137"/><text class="v f15" x="2798.5" y="1094 1152 1210.5">選挙班</text></g>
<g id="notes"><text class="l" style="font-size:12px;letter-spacing:5px" x="2651" y="104.5">・市長が議長</text><text class="l" style="font-size:12px;letter-spacing:5px" x="2634" y="104.5">・副市長・教育長</text><text class="l" style="font-size:12px;letter-spacing:5px" x="2617" y="104.5">・企業管理者・部長等</text></g>
<g id="p01"><rect class="k" x="2670" y="42" width="60" height="299" style="stroke-width:5"/><text class="l" style="font-size:22px;letter-spacing:4.2px" x="2700" y="62">人口減少対策戦略会議</text></g>
<g id="p-dots"><text class="l" style="font-size:16px;letter-spacing:5px" x="2700" y="342">・・・</text></g>
<g id="p02"><rect class="k" x="2676" y="404" width="48" height="306" style="stroke-width:5"/><text class="l" style="font-size:22px;letter-spacing:3.3px" x="2700" y="419">庁内プロジェクトチーム</text></g>
<g id="g01"><rect class="k" x="2785" y="86" width="26" height="71"/><text class="v f15" x="2798" y="97 145">議会</text></g>
<g id="g02"><rect class="k" x="2785" y="179" width="26" height="139"/><text class="v f15" x="2798" y="190 219.1 248.3 277.4 306.5">議会事務局</text></g>
<g id="g03"><rect class="b" x="2769" y="549" width="24" height="137"/><text class="v f15" x="2781" y="560 589.2 618.3 647.5 676.6">議事調査班</text></g>
<g id="g04"><rect class="b" x="2804" y="549" width="23" height="137"/><text class="v f15" x="2815.5" y="560 618.3 676.6">庶務班</text></g>
<g id="w01"><rect class="k" x="2549" y="1314.5" width="94" height="23.5"/><text class="h f15" x="2598" y="1326" style="letter-spacing:3.8px">企業局</text></g>
<g id="w02"><rect class="k" x="2549" y="1359" width="94" height="25"/><text class="h f15" x="2596.7" y="1371.5" style="letter-spacing:1.3px">企業管理者</text></g>
<g id="w03"><rect class="b" x="2348.6" y="1430.5" width="23.4" height="137.5"/><text class="v f13" x="2360.3" y="1437 1456.7 1476.3 1496 1515.7 1535.3 1555">上下水道事務所</text></g>
<g id="w04"><rect class="b" x="2417.6" y="1430.5" width="23.4" height="137.5"/><text class="v f15" x="2429.3" y="1440 1497.5 1555">ガス課</text></g>
<g id="w05"><rect class="b" x="2504" y="1430.5" width="23.5" height="137.5"/><text class="v f15" x="2515.8" y="1440 1478.3 1516.7 1555">下水道課</text></g>
<g id="w06"><rect class="b" x="2590" y="1430.5" width="24.5" height="137.5"/><text class="v f15" x="2602.3" y="1440 1497.5 1555">水道課</text></g>
<g id="w07"><rect class="b" x="2677" y="1430.5" width="23" height="137.5"/><text class="v f15" x="2688.5" y="1440 1468.8 1497.5 1526.3 1555">蟻山浄水場</text></g>
<g id="w08"><rect class="b" x="2746" y="1430.5" width="22.6" height="137.5"/><text class="v f15" x="2757.3" y="1440 1497.5 1555">営業課</text></g>
<g id="w09"><rect class="b" x="2815.7" y="1430.5" width="23.3" height="137.5"/><text class="v f15" x="2827.3" y="1440 1497.5 1555">管理課</text></g>
<g id="w10"><rect class="b" x="2348.6" y="1612" width="23.4" height="139"/><text class="v f15" x="2360.3" y="1625 1653.8 1682.5 1711.3 1740">上下水道班</text></g>
<g id="w11"><rect class="b" x="2383" y="1612" width="23" height="139"/><text class="v f15" x="2394.5" y="1625 1682.5 1740">供給班</text></g>
<g id="w12"><rect class="b" x="2417.6" y="1612" width="23.4" height="139"/><text class="v f15" x="2429.3" y="1625 1682.5 1740">工務班</text></g>
<g id="w13"><rect class="b" x="2453" y="1612" width="23.5" height="139"/><text class="v f15" x="2464.8" y="1625 1682.5 1740">製造班</text></g>
<g id="w14"><rect class="b" x="2487" y="1612" width="23" height="139"/><text class="v f15" x="2498.5" y="1625 1653.8 1682.5 1711.3 1740">集落排水班</text></g>
<g id="w15"><rect class="b" x="2521.6" y="1612" width="23.4" height="139"/><text class="v f15" x="2533.3" y="1625 1648 1671 1694 1717 1740">公共下水道班</text></g>
<g id="w16"><rect class="b" x="2555.7" y="1612" width="23.3" height="139"/><text class="v f15" x="2567.3" y="1625 1682.5 1740">計画班</text></g>
<g id="w17"><rect class="b" x="2590" y="1612" width="24" height="139"/><text class="v f15" x="2602" y="1625 1682.5 1740">工務班</text></g>
<g id="w18"><rect class="b" x="2624" y="1612" width="24" height="139"/><text class="v f15" x="2636" y="1625 1663.3 1701.7 1740">配給水班</text></g>
<g id="w19"><rect class="b" x="2660" y="1612" width="23" height="139"/><text class="v f15" x="2671.5" y="1625 1653.8 1682.5 1711.3 1740">水質管理班</text></g>
<g id="w20"><rect class="b" x="2694" y="1612" width="23.6" height="139"/><text class="v f15" x="2705.8" y="1625 1663.3 1701.7 1740">原浄水班</text></g>
<g id="w21"><rect class="b" x="2729" y="1612" width="23" height="139"/><text class="v f15" x="2740.5" y="1625 1682.5 1740">営業班</text></g>
<g id="w22"><rect class="b" x="2763.5" y="1612" width="23.5" height="139"/><text class="v f15" x="2775.2" y="1625 1682.5 1740">料金班</text></g>
<g id="w23"><rect class="b" x="2799" y="1612" width="22" height="139"/><text class="v f15" x="2810" y="1625 1682.5 1740">経理班</text></g>
<g id="w24"><rect class="b" x="2833" y="1612" width="22.7" height="139"/><text class="v f15" x="2844.4" y="1625 1682.5 1740">総務班</text></g>
<g id="f01"><rect class="b" x="160" y="1343" width="22" height="70"/><text class="v f15" x="171" y="1353 1376.5 1400">消防団</text></g>
<g id="f02"><rect class="b" x="160" y="1666" width="23" height="138"/><text class="v" x="171.5" y="1677 1792">分団</text></g>
<g id="f03"><rect class="k" x="706" y="1343" width="115.5" height="24"/><text class="h" x="764.7" y="1355" style="letter-spacing:1.9px">消防本部</text></g>
<g id="f04"><rect class="k" x="706" y="1388" width="115.5" height="25"/><text class="h" x="764" y="1400.5">消防長</text></g>
<g id="f05"><rect class="b" x="448" y="1493" width="58" height="127" style="stroke-width:2.5"/><text class="v" x="485" y="1503 1529.3 1555.5 1581.8 1608">由利本荘市</text><text class="v" x="468" y="1503 1555.5 1608">消防署</text></g>
<g id="f06"><rect class="b" x="246" y="1544" width="69" height="24" style="stroke-width:2.5"/><text class="h" x="283.3" y="1556" style="letter-spacing:6.5px">分　署</text></g>
<g id="f07"><rect class="b" x="206" y="1666" width="23" height="138"/><text class="v" x="217.5" y="1677 1705.8 1734.5 1763.3 1792">機械整備班</text></g>
<g id="f08"><rect class="b" x="234" y="1666" width="21" height="138"/><text class="v" x="244.5" y="1677 1734.5 1792">救急班</text></g>
<g id="f09"><rect class="b" x="269" y="1666" width="23" height="138"/><text class="v" x="280.5" y="1677 1734.5 1792">予防班</text></g>
<g id="f10"><rect class="b" x="304" y="1666" width="22.7" height="138"/><text class="v" x="315.3" y="1677 1734.5 1792">警防班</text></g>
<g id="f11"><rect class="b" x="338" y="1666" width="23" height="138"/><text class="v" x="349.5" y="1677 1734.5 1792">庶務班</text></g>
<g id="f12"><rect class="b" x="377" y="1666" width="23" height="138"/><text class="v" x="388.5" y="1677 1705.8 1734.5 1763.3 1792">機械整備班</text></g>
<g id="f13"><rect class="b" x="413" y="1666" width="24" height="138"/><text class="v" x="425" y="1677 1734.5 1792">救急班</text></g>
<g id="f14"><rect class="b" x="447" y="1666" width="24.5" height="138"/><text class="v" x="459.3" y="1677 1734.5 1792">予防班</text></g>
<g id="f15"><rect class="b" x="482" y="1666" width="24" height="138"/><text class="v" x="494" y="1677 1734.5 1792">救助班</text></g>
<g id="f16"><rect class="b" x="517" y="1666" width="24" height="138"/><text class="v" x="529" y="1677 1734.5 1792">警防班</text></g>
<g id="f17"><rect class="b" x="552" y="1666" width="23.6" height="138"/><text class="v" x="563.8" y="1677 1734.5 1792">庶務班</text></g>
<g id="f18"><rect class="b" x="602.6" y="1481" width="25.4" height="139"/><text class="v" x="615.3" y="1492.7 1521.6 1550.5 1579.4 1608.3">通信指令課</text></g>
<g id="f19"><rect class="b" x="695" y="1481" width="24" height="139"/><text class="v" x="707" y="1492.7 1550.5 1608.3">予防課</text></g>
<g id="f20"><rect class="b" x="763.6" y="1481" width="24.4" height="139"/><text class="v" x="775.8" y="1492.7 1550.5 1608.3">救急課</text></g>
<g id="f21"><rect class="b" x="816" y="1481" width="24" height="139"/><text class="v" x="828" y="1492.7 1550.5 1608.3">警防課</text></g>
<g id="f22"><rect class="b" x="886" y="1481" width="23.5" height="139"/><text class="v" x="897.7" y="1492.7 1550.5 1608.3">総務課</text></g>
<g id="f23"><rect class="b" x="586" y="1666" width="23" height="138"/><text class="v" x="597.5" y="1677 1734.5 1792">施設班</text></g>
<g id="f24"><rect class="b" x="620.6" y="1666" width="23" height="138"/><text class="v" x="632" y="1677 1734.5 1792">指令班</text></g>
<g id="f25"><rect class="b" x="660" y="1666" width="24" height="138"/><text class="v" x="672" y="1677 1734.5 1792">調査班</text></g>
<g id="f26"><rect class="b" x="695" y="1666" width="24" height="138"/><text class="v" x="707" y="1677 1715.3 1753.7 1792">危険物班</text></g>
<g id="f27"><rect class="b" x="730" y="1666" width="23" height="138"/><text class="v" x="741.5" y="1677 1734.5 1792">予防班</text></g>
<g id="f28"><rect class="b" x="764" y="1666" width="24" height="138"/><text class="v" x="776" y="1677 1734.5 1792">救急班</text></g>
<g id="f29"><rect class="b" x="799" y="1666" width="23.6" height="138"/><text class="v" x="810.8" y="1677 1734.5 1792">救助班</text></g>
<g id="f30"><rect class="b" x="834" y="1666" width="23" height="138"/><text class="v" x="845.5" y="1677 1734.5 1792">警防班</text></g>
<g id="f31"><rect class="b" x="868" y="1666" width="23.6" height="138"/><text class="v" x="879.8" y="1677 1734.5 1792">庶務班</text></g>
<g id="f32"><rect class="b" x="903" y="1666" width="23" height="138"/><text class="v" x="914.5" y="1677 1734.5 1792">総務班</text></g>
</svg>
